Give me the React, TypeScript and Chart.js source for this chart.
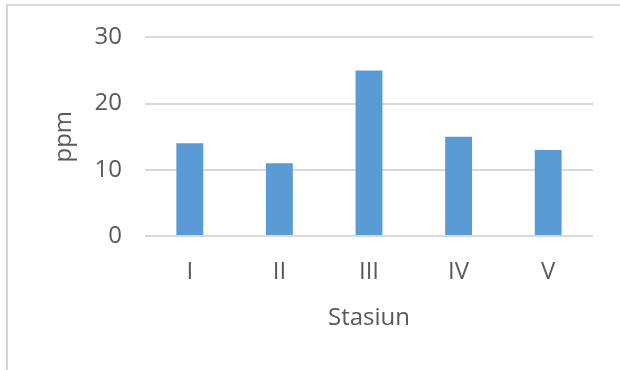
import React, { useEffect, useRef } from "react";
import { Chart, registerables } from "chart.js";

Chart.register(...registerables);

// Stations along the x axis and the measured concentration at each
const stations: string[] = ["I", "II", "III", "IV", "V"];
const ppmValues: number[] = [14, 11, 25, 15, 13];
const yTicks: number[] = [0, 10, 20, 30];

const TEXT = "#595959";
const GRID = "#d9d9d9";
const BAR = "#5b9bd5";
const FONT = "'Open Sans', 'Noto Sans', sans-serif";

export default function App() {
  const canvasRef = useRef<HTMLCanvasElement | null>(null);

  useEffect(() => {
    const canvas = canvasRef.current;
    if (!canvas) return;
    const chart = new Chart(canvas, {
      type: "bar",
      data: {
        labels: stations,
        datasets: [
          {
            label: "ppm",
            data: ppmValues,
            backgroundColor: BAR,
            borderWidth: 0,
            barPercentage: 0.3,
            categoryPercentage: 1,
          },
        ],
      },
      options: {
        responsive: false,
        animation: false,
        layout: { padding: { left: 0, top: 37, right: 27, bottom: 0 } },
        plugins: {
          legend: { display: false },
          tooltip: { enabled: false },
        },
        scales: {
          x: {
            grid: { display: false, drawTicks: false },
            border: { display: false },
            ticks: {
              color: TEXT,
              padding: 22,
              font: { family: FONT, size: 24 },
            },
            title: {
              display: true,
              text: "Stasiun",
              color: TEXT,
              font: { family: FONT, size: 24 },
              padding: { top: 0, bottom: 37 },
            },
            afterFit: (scale: any) => {
              scale.height = 134;
            },
          },
          y: {
            min: yTicks[0],
            max: yTicks[yTicks.length - 1],
            afterBuildTicks: (scale: any) => {
              scale.ticks = yTicks.map((v) => ({ value: v }));
            },
            grid: { color: GRID, lineWidth: 2, drawTicks: false },
            border: { display: false },
            ticks: {
              color: TEXT,
              padding: 23,
              font: { family: FONT, size: 24 },
            },
            title: {
              display: true,
              text: "ppm",
              color: TEXT,
              font: { family: FONT, size: 24 },
              padding: { top: 50, bottom: 0 },
            },
            afterFit: (scale: any) => {
              scale.width = 145;
            },
          },
        },
      },
    });
    return () => chart.destroy();
  }, []);

  return (
    <div
      style={{
        position: "absolute",
        left: 0,
        top: 0,
        width: 620,
        height: 370,
        background: "#ffffff",
        overflow: "hidden",
      }}
    >
      <div
        style={{
          position: "absolute",
          left: 6,
          top: 4,
          width: 620,
          height: 380,
          borderLeft: "2px solid #d4d4d4",
          borderTop: "2px solid #d9d9d9",
          boxSizing: "border-box",
        }}
      />
      <canvas
        ref={canvasRef}
        width={620}
        height={370}
        style={{ position: "absolute", left: 0, top: 0 }}
      />
    </div>
  );
}
